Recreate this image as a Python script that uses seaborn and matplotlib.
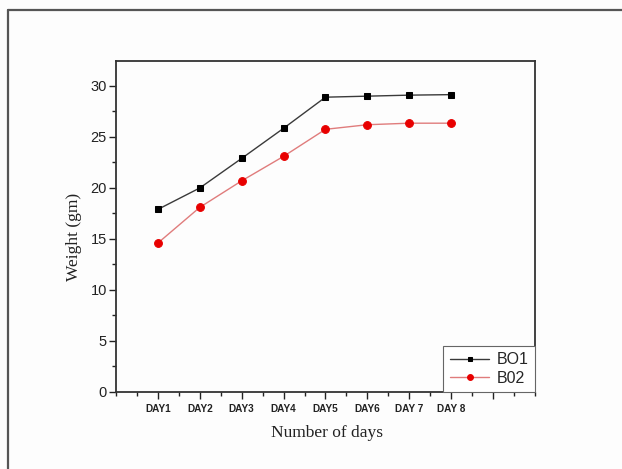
import numpy as np
import pandas as pd
import seaborn as sns
import matplotlib
matplotlib.use("Agg")
import matplotlib.pyplot as plt
from matplotlib.lines import Line2D
from matplotlib.ticker import MultipleLocator, FixedLocator

# Body weight over eight days for two batches
days = ["DAY1", "DAY2", "DAY3", "DAY4", "DAY5", "DAY6", "DAY 7", "DAY 8"]
day_pos = [1, 2, 3, 4, 5, 6, 7, 8]
bo1 = [17.9, 20.0, 22.9, 25.85, 28.9, 29.0, 29.1, 29.15]
b02 = [14.6, 18.1, 20.7, 23.1, 25.75, 26.2, 26.35, 26.35]

sns.set_theme(style="white")
plt.rcParams["font.family"] = ["Liberation Sans", "DejaVu Sans"]

fig = plt.figure(figsize=(6.22, 4.69), dpi=100)
fig.patch.set_facecolor("#fdfdfd")
ax = fig.add_axes([0.1865, 0.1642, 0.6735, 0.7058])
ax.set_facecolor("#fdfdfd")

df1 = pd.DataFrame({"day": day_pos, "weight": bo1})
df2 = pd.DataFrame({"day": day_pos, "weight": b02})

sns.lineplot(data=df1, x="day", y="weight", ax=ax, color="#3a3a3a",
             linewidth=1.0, marker="s", markersize=4.8,
             markerfacecolor="black", markeredgecolor="black",
             label="BO1")
sns.lineplot(data=df2, x="day", y="weight", ax=ax, color="#e07c7c",
             linewidth=1.0, marker="o", markersize=5.6,
             markerfacecolor="#e80000", markeredgecolor="#e80000",
             label="B02")

ax.set_xlim(0, 10)
ax.set_ylim(0, 32.45)

ax.xaxis.set_major_locator(FixedLocator([1, 2, 3, 4, 5, 6, 7, 8, 9]))
ax.set_xticklabels(days + [""])
ax.xaxis.set_minor_locator(MultipleLocator(0.5))
ax.yaxis.set_major_locator(MultipleLocator(5))
ax.yaxis.set_minor_locator(MultipleLocator(2.5))

ax.tick_params(axis="both", which="major", direction="out", length=5,
               width=1.0, color="#222222", bottom=True, left=True)
ax.tick_params(axis="both", which="minor", direction="out", length=3,
               width=1.0, color="#222222", bottom=True, left=True)
ax.tick_params(axis="y", labelsize=10.5, pad=1.5, labelcolor="#222222")
ax.tick_params(axis="x", labelsize=7.2, pad=4, labelcolor="#222222")
for lbl in ax.get_xticklabels():
    lbl.set_fontweight("bold")

for side in ["left", "bottom", "top", "right"]:
    ax.spines[side].set_visible(True)
    ax.spines[side].set_color("#333333")
    ax.spines[side].set_linewidth(1.3)

serif = ["Liberation Serif", "DejaVu Serif"]
ax.set_xlabel("Number of days", family=serif, fontsize=12.5, color="#222222")
ax.set_ylabel("Weight (gm)", family=serif, fontsize=12.5, color="#222222")
ax.xaxis.set_label_coords(0.503, -0.10)
ax.yaxis.set_label_coords(-0.081, 0.467)

leg = ax.legend(loc="lower right", borderaxespad=0, fontsize=11.5,
                handlelength=2.5, handletextpad=0.45, borderpad=0.4,
                labelspacing=0.2, markerscale=0.75, fancybox=False,
                framealpha=1)
leg.get_frame().set_edgecolor("#666666")
leg.get_frame().set_linewidth(0.8)

# Outer panel border (left and top edges)
x0 = 8 / 622
y0 = 1 - 10 / 469
fig.add_artist(Line2D([x0, x0], [0, y0], transform=fig.transFigure,
                      color="#555555", linewidth=1.6))
fig.add_artist(Line2D([x0, 1], [y0, y0], transform=fig.transFigure,
                      color="#555555", linewidth=1.6))

fig.savefig("out.png", dpi=100, facecolor=fig.get_facecolor())
